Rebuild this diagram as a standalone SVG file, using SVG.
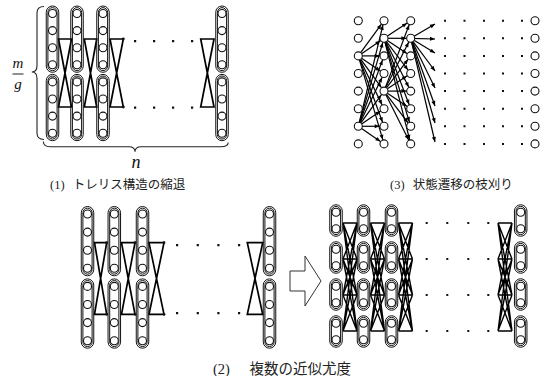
<svg xmlns="http://www.w3.org/2000/svg" width="544" height="376" viewBox="0 0 544 376">
<style>
.co,.ci{fill:none;stroke:#111;stroke-width:1}
.nd{fill:#fff;stroke:#111;stroke-width:1.1}
.hg{fill:none;stroke:#000;stroke-width:1.7;stroke-linejoin:miter}
.kk{fill:none;stroke:#000;stroke-width:1.4}
.ed{stroke:#000;stroke-width:1.2;marker-end:url(#ah)}
.ea{stroke:#000;stroke-width:1.2;marker-end:url(#ah0)}
.dt{fill:#111}
.br{fill:none;stroke:#222;stroke-width:1.1}
.cap{font-family:"Liberation Serif","Noto Sans CJK JP",serif;fill:#222}
.it{font-family:"Liberation Serif",serif;font-style:italic;fill:#111;text-anchor:middle}
</style>
<defs>
<marker id="ah" markerUnits="userSpaceOnUse" markerWidth="12" markerHeight="8" orient="auto" style="overflow:visible"><path d="M-9.3,-2L-4.5,0L-9.3,2z" fill="#000"/></marker>
<marker id="ah0" markerUnits="userSpaceOnUse" markerWidth="12" markerHeight="8" orient="auto" style="overflow:visible"><path d="M-5,-2L0,0L-5,2z" fill="#000"/></marker>
<g id="c4a"><rect class="co" x="-6.25" y="-33.15" width="12.5" height="66.3" rx="6.25"/><rect class="ci" x="-4.6" y="-31.5" width="9.2" height="63" rx="4.6"/><circle class="nd" cx="0" cy="-25.65" r="4"/><circle class="nd" cx="0" cy="-8.55" r="4"/><circle class="nd" cx="0" cy="8.55" r="4"/><circle class="nd" cx="0" cy="25.65" r="4"/></g>
<g id="c4b"><rect class="co" x="-6.25" y="-34.65" width="12.5" height="69.3" rx="6.25"/><rect class="ci" x="-4.6" y="-33" width="9.2" height="66" rx="4.6"/><circle class="nd" cx="0" cy="-27.15" r="4"/><circle class="nd" cx="0" cy="-9.05" r="4"/><circle class="nd" cx="0" cy="9.05" r="4"/><circle class="nd" cx="0" cy="27.15" r="4"/></g>
<g id="c2"><rect class="co" x="-6.25" y="-15.75" width="12.5" height="31.5" rx="6.25"/><rect class="ci" x="-4.6" y="-14.1" width="9.2" height="28.2" rx="4.6"/><circle class="nd" cx="0" cy="-8.25" r="4"/><circle class="nd" cx="0" cy="8.25" r="4"/></g>
<path id="k44" class="kk" d="M0 0L14 0M0 0L14 36M0 0L14 72M0 0L14 108M0 36L14 0M0 36L14 36M0 36L14 72M0 36L14 108M0 72L14 0M0 72L14 36M0 72L14 72M0 72L14 108M0 108L14 0M0 108L14 36M0 108L14 72M0 108L14 108"/>
</defs>
<rect width="544" height="376" fill="#fff"/>

<g id="connectors">
<polygon class="hg" points="58.5,39 71.5,39 58.5,107 71.5,107"/>
<polygon class="hg" points="84.3,39 96.7,39 84.3,107 96.7,107"/>
<polygon class="hg" points="110,39 123.3,39 110,107 123.3,107"/>
<polygon class="hg" points="200.7,39 214,39 200.7,107 214,107"/>
<circle cx="123.3" cy="39" r="1.4" class="dt"/><circle cx="123.3" cy="107" r="1.4" class="dt"/>
<polygon class="hg" points="94.5,242.7 106.7,242.7 94.5,314.3 106.7,314.3"/>
<polygon class="hg" points="121.5,242.7 135,242.7 121.5,314.3 135,314.3"/>
<polygon class="hg" points="149,242.7 164,242.7 149,314.3 164,314.3"/>
<polygon class="hg" points="247.3,242.7 262.7,242.7 247.3,314.3 262.7,314.3"/>
<circle cx="106.7" cy="242.7" r="1.4" class="dt"/><circle cx="106.7" cy="314.3" r="1.4" class="dt"/>
<circle cx="135" cy="242.7" r="1.4" class="dt"/><circle cx="135" cy="314.3" r="1.4" class="dt"/>
<circle cx="164" cy="242.7" r="1.4" class="dt"/><circle cx="164" cy="314.3" r="1.4" class="dt"/>
<use href="#k44" transform="translate(343,223)"/>
<use href="#k44" transform="translate(370.5,223)"/>
<use href="#k44" transform="translate(398.5,223)"/>
<use href="#k44" transform="translate(498,223)"/>
<line class="ed" x1="358.3" y1="55.9" x2="384" y2="20.7"/>
<line class="ed" x1="358.3" y1="55.9" x2="384" y2="38.3"/>
<line class="ed" x1="358.3" y1="55.9" x2="384" y2="55.9"/>
<line class="ed" x1="358.3" y1="55.9" x2="384" y2="73.5"/>
<line class="ed" x1="358.3" y1="55.9" x2="384" y2="91.1"/>
<line class="ed" x1="358.3" y1="55.9" x2="384" y2="108.7"/>
<line class="ed" x1="358.3" y1="55.9" x2="384" y2="126.3"/>
<line class="ed" x1="358.3" y1="55.9" x2="384" y2="143.9"/>
<line class="ed" x1="358.3" y1="126.3" x2="384" y2="20.7"/>
<line class="ed" x1="358.3" y1="126.3" x2="384" y2="38.3"/>
<line class="ed" x1="358.3" y1="126.3" x2="384" y2="55.9"/>
<line class="ed" x1="358.3" y1="126.3" x2="384" y2="73.5"/>
<line class="ed" x1="358.3" y1="126.3" x2="384" y2="91.1"/>
<line class="ed" x1="358.3" y1="126.3" x2="384" y2="108.7"/>
<line class="ed" x1="358.3" y1="126.3" x2="384" y2="126.3"/>
<line class="ed" x1="358.3" y1="126.3" x2="384" y2="143.9"/>
<line class="ed" x1="384" y1="38.3" x2="410.7" y2="20.7"/>
<line class="ed" x1="384" y1="38.3" x2="410.7" y2="38.3"/>
<line class="ed" x1="384" y1="38.3" x2="410.7" y2="55.9"/>
<line class="ed" x1="384" y1="38.3" x2="410.7" y2="73.5"/>
<line class="ed" x1="384" y1="38.3" x2="410.7" y2="91.1"/>
<line class="ed" x1="384" y1="38.3" x2="410.7" y2="108.7"/>
<line class="ed" x1="384" y1="38.3" x2="410.7" y2="126.3"/>
<line class="ed" x1="384" y1="38.3" x2="410.7" y2="143.9"/>
<line class="ed" x1="384" y1="91.1" x2="410.7" y2="20.7"/>
<line class="ed" x1="384" y1="91.1" x2="410.7" y2="38.3"/>
<line class="ed" x1="384" y1="91.1" x2="410.7" y2="55.9"/>
<line class="ed" x1="384" y1="91.1" x2="410.7" y2="73.5"/>
<line class="ed" x1="384" y1="91.1" x2="410.7" y2="91.1"/>
<line class="ed" x1="384" y1="91.1" x2="410.7" y2="108.7"/>
<line class="ed" x1="384" y1="91.1" x2="410.7" y2="126.3"/>
<line class="ed" x1="384" y1="91.1" x2="410.7" y2="143.9"/>
<line class="ea" x1="410.7" y1="38.3" x2="435" y2="24"/>
<line class="ea" x1="410.7" y1="38.3" x2="435" y2="39"/>
<line class="ea" x1="410.7" y1="38.3" x2="435" y2="53"/>
<line class="ea" x1="410.7" y1="38.3" x2="435" y2="71"/>
<line class="ea" x1="410.7" y1="38.3" x2="435" y2="88"/>
<line class="ea" x1="410.7" y1="38.3" x2="435" y2="106"/>
<line class="ea" x1="410.7" y1="38.3" x2="435" y2="123"/>
<line class="ea" x1="410.7" y1="38.3" x2="435" y2="142"/>
</g>

<g id="ellipses" class="dt">
<path d="M134 40h2.2v2.2h-2.2zM153 40h2.2v2.2h-2.2zM172 40h2.2v2.2h-2.2zM191 40h2.2v2.2h-2.2zM134 106.5h2.2v2.2h-2.2zM153 106.5h2.2v2.2h-2.2zM172 106.5h2.2v2.2h-2.2zM191 106.5h2.2v2.2h-2.2z"/>
<path d="M176 244h2.2v2.2h-2.2zM196.7 244h2.2v2.2h-2.2zM217.3 244h2.2v2.2h-2.2zM238 244h2.2v2.2h-2.2zM176 312h2.2v2.2h-2.2zM196.7 312h2.2v2.2h-2.2zM217.3 312h2.2v2.2h-2.2zM238 312h2.2v2.2h-2.2z"/>
<path d="M425.7 222h2v2h-2zM446.3 222h2v2h-2zM467.3 222h2v2h-2zM487.3 222h2v2h-2zM425.7 258h2v2h-2zM446.3 258h2v2h-2zM467.3 258h2v2h-2zM487.3 258h2v2h-2zM425.7 294h2v2h-2zM446.3 294h2v2h-2zM467.3 294h2v2h-2zM487.3 294h2v2h-2zM425.7 330h2v2h-2zM446.3 330h2v2h-2zM467.3 330h2v2h-2zM487.3 330h2v2h-2z"/>
<path d="M444 19.7h2v2h-2zM463.5 19.7h2v2h-2zM483 19.7h2v2h-2zM502 19.7h2v2h-2zM521 19.7h2v2h-2zM444 37.3h2v2h-2zM463.5 37.3h2v2h-2zM483 37.3h2v2h-2zM502 37.3h2v2h-2zM521 37.3h2v2h-2zM444 54.9h2v2h-2zM463.5 54.9h2v2h-2zM483 54.9h2v2h-2zM502 54.9h2v2h-2zM521 54.9h2v2h-2zM444 72.5h2v2h-2zM463.5 72.5h2v2h-2zM483 72.5h2v2h-2zM502 72.5h2v2h-2zM521 72.5h2v2h-2zM444 90.1h2v2h-2zM463.5 90.1h2v2h-2zM483 90.1h2v2h-2zM502 90.1h2v2h-2zM521 90.1h2v2h-2zM444 107.7h2v2h-2zM463.5 107.7h2v2h-2zM483 107.7h2v2h-2zM502 107.7h2v2h-2zM521 107.7h2v2h-2zM444 125.3h2v2h-2zM463.5 125.3h2v2h-2zM483 125.3h2v2h-2zM502 125.3h2v2h-2zM521 125.3h2v2h-2zM444 142.9h2v2h-2zM463.5 142.9h2v2h-2zM483 142.9h2v2h-2zM502 142.9h2v2h-2zM521 142.9h2v2h-2z"/>
</g>

<g id="p1-col1"><use href="#c4a" x="52.5" y="39.15"/><use href="#c4a" x="52.5" y="107.55"/></g>
<g id="p1-col2"><use href="#c4a" x="77" y="39.15"/><use href="#c4a" x="77" y="107.55"/></g>
<g id="p1-col3"><use href="#c4a" x="103" y="39.15"/><use href="#c4a" x="103" y="107.55"/></g>
<g id="p1-coln"><use href="#c4a" x="222" y="39.15"/><use href="#c4a" x="222" y="107.55"/></g>

<g id="p2a-col1"><use href="#c4b" x="87.5" y="241.15"/><use href="#c4b" x="87.5" y="313.55"/></g>
<g id="p2a-col2"><use href="#c4b" x="114.3" y="241.15"/><use href="#c4b" x="114.3" y="313.55"/></g>
<g id="p2a-col3"><use href="#c4b" x="142.5" y="241.15"/><use href="#c4b" x="142.5" y="313.55"/></g>
<g id="p2a-coln"><use href="#c4b" x="269.5" y="241.15"/><use href="#c4b" x="269.5" y="313.55"/></g>

<g id="p2-arrow"><polygon points="290,271 305,271 305,256 321,281 305,306 305,291 290,291" fill="#fff" stroke="#333" stroke-width="1"/></g>

<g id="p2b-col1"><use href="#c2" x="336" y="220.5"/><use href="#c2" x="336" y="257.5"/><use href="#c2" x="336" y="294.5"/><use href="#c2" x="336" y="331.5"/></g>
<g id="p2b-col2"><use href="#c2" x="363.5" y="220.5"/><use href="#c2" x="363.5" y="257.5"/><use href="#c2" x="363.5" y="294.5"/><use href="#c2" x="363.5" y="331.5"/></g>
<g id="p2b-col3"><use href="#c2" x="391.5" y="220.5"/><use href="#c2" x="391.5" y="257.5"/><use href="#c2" x="391.5" y="294.5"/><use href="#c2" x="391.5" y="331.5"/></g>
<g id="p2b-coln"><use href="#c2" x="520.7" y="220.5"/><use href="#c2" x="520.7" y="257.5"/><use href="#c2" x="520.7" y="294.5"/><use href="#c2" x="520.7" y="331.5"/></g>

<g id="p3-col1"><circle class="nd" cx="358.3" cy="20.7" r="4"/><circle class="nd" cx="358.3" cy="38.3" r="4"/><circle class="nd" cx="358.3" cy="55.9" r="4"/><circle class="nd" cx="358.3" cy="73.5" r="4"/><circle class="nd" cx="358.3" cy="91.1" r="4"/><circle class="nd" cx="358.3" cy="108.7" r="4"/><circle class="nd" cx="358.3" cy="126.3" r="4"/><circle class="nd" cx="358.3" cy="143.9" r="4"/></g>
<g id="p3-col2"><circle class="nd" cx="384" cy="20.7" r="4"/><circle class="nd" cx="384" cy="38.3" r="4"/><circle class="nd" cx="384" cy="55.9" r="4"/><circle class="nd" cx="384" cy="73.5" r="4"/><circle class="nd" cx="384" cy="91.1" r="4"/><circle class="nd" cx="384" cy="108.7" r="4"/><circle class="nd" cx="384" cy="126.3" r="4"/><circle class="nd" cx="384" cy="143.9" r="4"/></g>
<g id="p3-col3"><circle class="nd" cx="410.7" cy="20.7" r="4"/><circle class="nd" cx="410.7" cy="38.3" r="4"/><circle class="nd" cx="410.7" cy="55.9" r="4"/><circle class="nd" cx="410.7" cy="73.5" r="4"/><circle class="nd" cx="410.7" cy="91.1" r="4"/><circle class="nd" cx="410.7" cy="108.7" r="4"/><circle class="nd" cx="410.7" cy="126.3" r="4"/><circle class="nd" cx="410.7" cy="143.9" r="4"/></g>
<g id="p3-coln"><circle class="nd" cx="535" cy="20.7" r="4"/><circle class="nd" cx="535" cy="38.3" r="4"/><circle class="nd" cx="535" cy="55.9" r="4"/><circle class="nd" cx="535" cy="73.5" r="4"/><circle class="nd" cx="535" cy="91.1" r="4"/><circle class="nd" cx="535" cy="108.7" r="4"/><circle class="nd" cx="535" cy="126.3" r="4"/><circle class="nd" cx="535" cy="143.9" r="4"/></g>

<path class="br" d="M44,6.5 C39.5,6.5 37,9 37,13 L37,65.5 C37,69.5 35,72 31.8,72 C35,72 37,74.5 37,78.5 L37,133 C37,137 39.5,139.5 44,139.5"/>
<path class="br" d="M43.3,141.5 C43.5,145 46,146.7 50,146.7 L129,146.7 C132.5,146.7 135,148.5 135,151.8 C135,148.5 137.5,146.7 141,146.7 L221,146.7 C225,146.7 228,145.5 228.3,142.5"/>
<text class="it" x="18" y="68" font-size="15">m</text>
<line x1="12.5" y1="74" x2="23.5" y2="74" stroke="#222" stroke-width="1"/>
<text class="it" x="18" y="89" font-size="15">g</text>
<text class="it" x="136" y="167.5" font-size="18">n</text>

<text class="cap" x="50" y="189" font-size="12.5">(1)<tspan dx="5"> トレリス構造の縮退</tspan></text>
<text class="cap" x="390" y="189" font-size="12.5">(3)<tspan dx="5"> 状態遷移の枝刈り</tspan></text>
<text class="cap" x="213" y="374" font-size="14.5">(2)<tspan dx="16"> 複数の近似尤度</tspan></text>
</svg>
